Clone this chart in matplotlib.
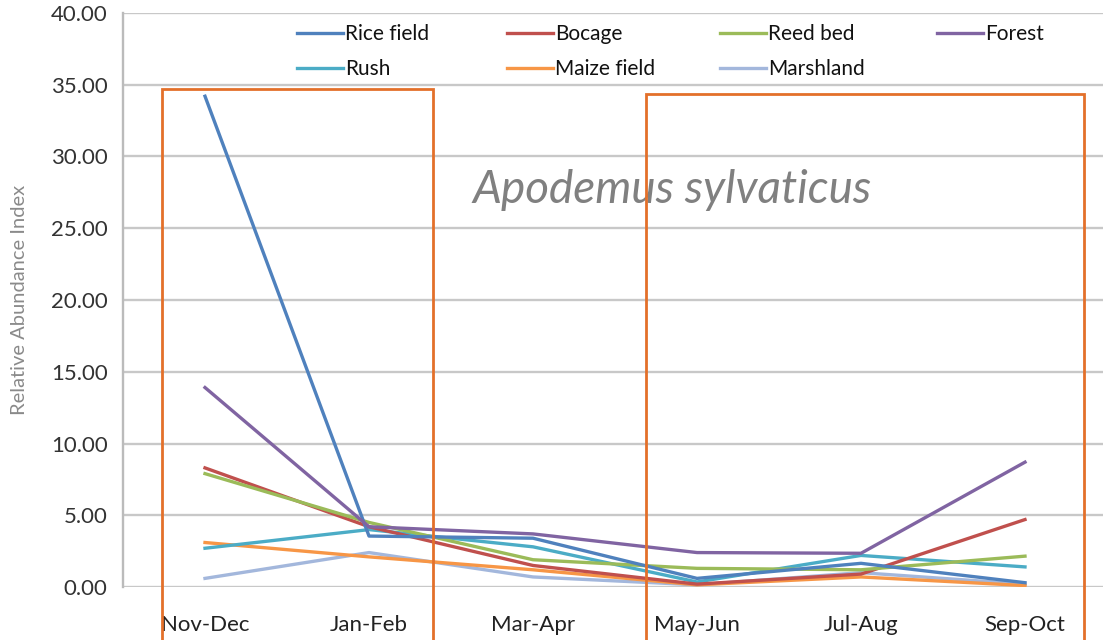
import matplotlib
matplotlib.use("Agg")
import matplotlib.pyplot as plt
import matplotlib.patches as mpatches

# Data
periods = ["Nov-Dec", "Jan-Feb", "Mar-Apr", "May-Jun", "Jul-Aug", "Sep-Oct"]
rice_field = [34.2, 3.55, 3.4, 0.6, 1.65, 0.3]
bocage = [8.3, 4.2, 1.5, 0.2, 0.9, 4.7]
reed_bed = [7.9, 4.5, 1.9, 1.3, 1.2, 2.15]
forest = [13.9, 4.2, 3.7, 2.4, 2.35, 8.7]
rush = [2.7, 4.0, 2.8, 0.35, 2.2, 1.4]
maize_field = [3.1, 2.1, 1.2, 0.15, 0.7, 0.1]
marshland = [0.6, 2.4, 0.7, 0.15, 1.0, 0.2]

W, H = 1103, 640

fig = plt.figure(figsize=(W / 100, H / 100), dpi=100)
plt.rcParams['font.family'] = ['Lato', 'DejaVu Sans']

# axes box in pixels (x 123..1107, y 13..587)
ax = fig.add_axes([123 / W, (H - 587) / H, (1107 - 123) / W, (587 - 13) / H])

x = range(len(periods))
series = {
    "Rice field": (rice_field, "#4F81BD"),
    "Bocage": (bocage, "#C0504D"),
    "Reed bed": (reed_bed, "#9BBB59"),
    "Forest": (forest, "#8064A2"),
    "Rush": (rush, "#4BACC6"),
    "Maize field": (maize_field, "#F79646"),
    "Marshland": (marshland, "#A3B7DC"),
}
draw_order = ["Marshland", "Maize field", "Rush", "Bocage", "Reed bed", "Rice field", "Forest"]
handles = {}
for name, (vals, col) in series.items():
    ln, = ax.plot(x, vals, color=col, linewidth=2.4, zorder=3 + draw_order.index(name), label=name)
    handles[name] = ln

ax.set_xlim(-0.5, 5.5)
ax.set_ylim(0, 40)
ax.set_yticks([0, 5, 10, 15, 20, 25, 30, 35, 40])
ax.set_yticklabels(["%.2f" % v for v in ax.get_yticks()], fontsize=16, color="#333333")
ax.set_xticks(list(x))
ax.set_xticklabels(periods, fontsize=16, color="#222222")
ax.tick_params(axis="y", length=0, pad=11)
ax.tick_params(axis="x", length=0, pad=20)
ax.grid(axis="y", color="#C8C8C8", linewidth=1.7)
ax.set_axisbelow(True)
for s in ["top", "right", "bottom"]:
    ax.spines[s].set_visible(False)
ax.spines["left"].set_color("#BBBBBB")
ax.spines["left"].set_linewidth(1.7)
ax.set_ylabel("Relative Abundance Index", fontsize=14.5, color="#8A8A8A")
ax.yaxis.set_label_coords((28 - 123) / 984, 0.5)

# species name
fig.text(672 / W, 1 - 190 / H, "Apodemus sylvaticus", fontsize=33, style="italic",
         color="#808080", ha="center", va="center", zorder=1)

# legend: four fixed-width columns
columns = [(297, ["Rice field", "Rush"]), (507, ["Bocage", "Maize field"]),
           (720, ["Reed bed", "Marshland"]), (937, ["Forest"])]
for xpix, names in columns:
    leg = fig.legend(handles=[handles[n] for n in names], frameon=False,
                     loc="upper left", bbox_to_anchor=(xpix / W, 1 - 24 / H),
                     fontsize=15, handlelength=2.2, handletextpad=0.1,
                     labelspacing=0.72, borderpad=0, borderaxespad=0)
    for t in leg.get_texts():
        t.set_color("#111111")

# orange highlight boxes (bottom runs off the image)
for (x0, y0, x1) in [(162, 89, 433), (646, 94, 1084)]:
    rect = mpatches.Rectangle((x0 / W, -0.1), (x1 - x0) / W, 1.1 - y0 / H,
                              transform=fig.transFigure, fill=False,
                              edgecolor="#E3702A", linewidth=2.0, zorder=20)
    fig.add_artist(rect)

fig.savefig("out.png", dpi=100)
